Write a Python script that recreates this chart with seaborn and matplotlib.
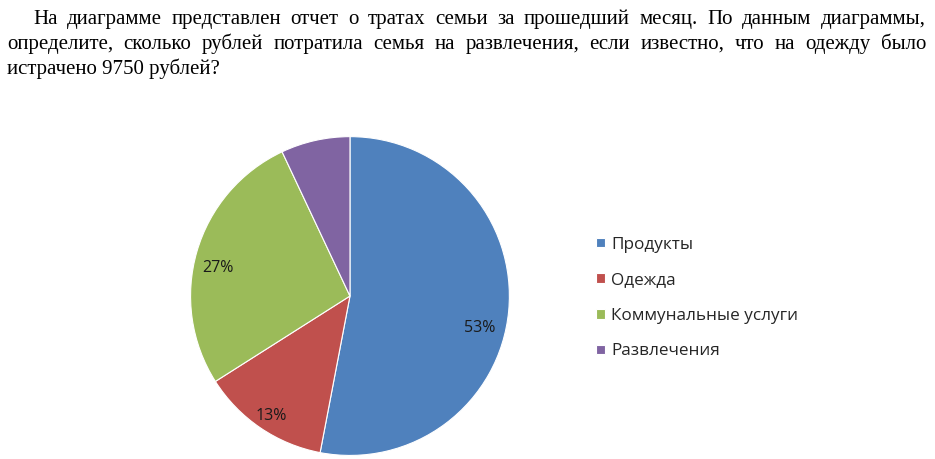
import matplotlib
matplotlib.use("Agg")
import matplotlib.pyplot as plt
import seaborn as sns

# data
categories = ["Продукты", "Одежда", "Коммунальные услуги", "Развлечения"]
shares = [53, 13, 27, 7]
colors = ["#4F81BD", "#C0504D", "#9BBB59", "#8064A2"]

question = [
    "На диаграмме представлен отчет о тратах семьи за прошедший месяц. По данным диаграммы,",
    "определите, сколько рублей потратила семья на развлечения, если известно, что на одежду было",
    "истрачено 9750 рублей?",
]

sns.set_theme(style="white")
plt.rcParams['font.family'] = ['Open Sans', 'DejaVu Sans']

W, H = 935, 459
fig = plt.figure(figsize=(W / 100, H / 100), dpi=100)
fig.patch.set_facecolor("white")

# question text, justified like the original
renderer = fig.canvas.get_renderer()
serif = ['Liberation Serif', 'DejaVu Serif']
text_size = 15


def put_line(line, x0, x1, ybase, justify=True):
    words = line.split(" ")
    if not justify:
        fig.text(x0 / W, 1 - ybase / H, line, family=serif, fontsize=text_size,
                 ha='left', va='baseline', color='black')
        return
    items = []
    for w in words:
        t = fig.text(0, 0, w, family=serif, fontsize=text_size, ha='left',
                     va='baseline', color='black')
        items.append((t, t.get_window_extent(renderer).width))
    gap = (x1 - x0 - sum(wd for _, wd in items)) / (len(items) - 1)
    x = x0
    for t, wd in items:
        t.set_position((x / W, 1 - ybase / H))
        x += wd + gap


put_line(question[0], 33, 926, 24)
put_line(question[1], 7, 926, 49)
put_line(question[2], 7, 926, 74, justify=False)

# pie
ax = fig.add_axes([0.2021, 0.0043, 0.3444, 0.7015])
wedges, texts, autotexts = ax.pie(
    shares, colors=colors, startangle=90, counterclock=False,
    autopct=lambda p: f"{p:.0f}%" if p > 10 else "",
    pctdistance=0.84, radius=1,
    wedgeprops=dict(edgecolor="white", linewidth=0.8),
    textprops=dict(fontsize=11.5, color="#1a1a1a"),
)
# nudge labels down a little, as the original does
for t in autotexts:
    x, y = t.get_position()
    t.set_position((x - 0.02, y - 0.06))
autotexts[0].set_position((autotexts[0].get_position()[0], autotexts[0].get_position()[1] - 0.06))
ax.set_xlim(-1.01, 1.01)
ax.set_ylim(-1.01, 1.01)
ax.set_aspect('equal')
ax.axis('off')

fig.legend(wedges, categories, loc='center left',
           bbox_to_anchor=(596 / W, 1 - 298 / H), frameon=False,
           fontsize=12.3, handlelength=0.5, handleheight=0.5,
           handletextpad=0.4, labelspacing=1.15, borderpad=0,
           borderaxespad=0)

fig.savefig("out.png", dpi=100, facecolor="white")
